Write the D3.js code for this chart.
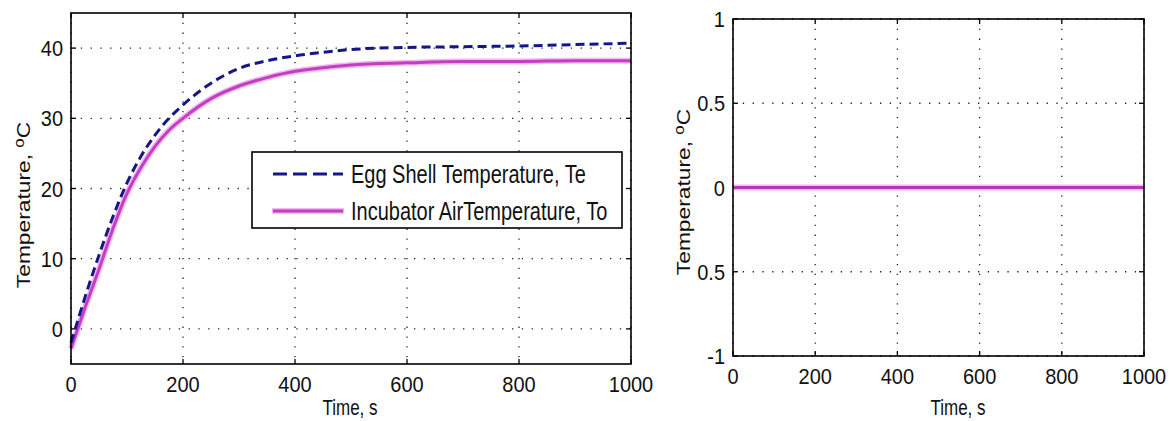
<!DOCTYPE html>
<html>
<head>
<meta charset="utf-8">
<script src="https://cdn.jsdelivr.net/npm/d3@7"></script>
<style>
  body { margin: 0; background: #fff; }
  text { font-family: "Liberation Sans", Arial, sans-serif; fill: #111; }
</style>
</head>
<body>
<div id="chart"></div>
<script>
// left panel: temperature response
const times = [0, 25, 50, 75, 100, 125, 150, 175, 200, 250, 300, 350, 400, 450, 500, 600, 700, 800, 900, 1000];
const shellTemp = [-2, 4.5, 10.5, 16, 20.8, 24.6, 27.6, 30, 31.9, 35, 37.1, 38.2, 38.9, 39.4, 39.8, 40.1, 40.2, 40.3, 40.5, 40.7];
const airTemp = [-2.8, 3, 8.5, 14.3, 19.3, 23, 26, 28.3, 30, 32.8, 34.6, 35.8, 36.7, 37.2, 37.6, 37.9, 38.1, 38.1, 38.2, 38.2];
// right panel: flat line
const rightTimes = [0, 1000];
const rightTemp = [0, 0];

const xTicks = [0, 200, 400, 600, 800, 1000];
const leftYTicks = [0, 10, 20, 30, 40];
const rightYTicks = [-1, -0.5, 0, 0.5, 1];
const rightYLabels = ['-1', '0.5', '0', '0.5', '1'];
const legendLabels = ['Egg Shell Temperature, Te', 'Incubator AirTemperature, To'];

const W = 1172, H = 421;
const svg = d3.select('#chart').append('svg')
  .attr('width', W).attr('height', H);

function panel(cfg) {
  const x = d3.scaleLinear().domain(cfg.xDomain).range([cfg.left, cfg.right]);
  const y = d3.scaleLinear().domain(cfg.yDomain).range([cfg.bottom, cfg.top]);
  const g = svg.append('g');

  // dotted grid
  g.selectAll('.gx').data(cfg.xTicks).enter().append('line')
    .attr('x1', d => x(d)).attr('x2', d => x(d))
    .attr('y1', cfg.top).attr('y2', cfg.bottom)
    .attr('stroke', '#222').attr('stroke-width', 1.3)
    .attr('stroke-dasharray', '1.3,8.5');
  g.selectAll('.gy').data(cfg.yTicks).enter().append('line')
    .attr('y1', d => y(d)).attr('y2', d => y(d))
    .attr('x1', cfg.left).attr('x2', cfg.right)
    .attr('stroke', '#222').attr('stroke-width', 1.3)
    .attr('stroke-dasharray', '1.3,8.5');

  // inward ticks
  const tk = 5;
  cfg.xTicks.forEach(d => {
    g.append('line').attr('x1', x(d)).attr('x2', x(d)).attr('y1', cfg.bottom).attr('y2', cfg.bottom - tk)
      .attr('stroke', '#000').attr('stroke-width', 1.3);
    g.append('line').attr('x1', x(d)).attr('x2', x(d)).attr('y1', cfg.top).attr('y2', cfg.top + tk)
      .attr('stroke', '#000').attr('stroke-width', 1.3);
  });
  cfg.yTicks.forEach(d => {
    g.append('line').attr('y1', y(d)).attr('y2', y(d)).attr('x1', cfg.left).attr('x2', cfg.left + tk)
      .attr('stroke', '#000').attr('stroke-width', 1.3);
    g.append('line').attr('y1', y(d)).attr('y2', y(d)).attr('x1', cfg.right).attr('x2', cfg.right - tk)
      .attr('stroke', '#000').attr('stroke-width', 1.3);
  });

  // tick labels
  g.selectAll('.xl').data(cfg.xTicks).enter().append('text')
    .attr('transform', d => `translate(${x(d)},${cfg.bottom + 28}) scale(1,1.12)`)
    .attr('text-anchor', 'middle').attr('font-size', 20)
    .text(d => d);
  g.selectAll('.yl').data(cfg.yTicks).enter().append('text')
    .attr('transform', d => `translate(${cfg.left - 8},${y(d) + 8}) scale(1,1.12)`)
    .attr('text-anchor', 'end').attr('font-size', 20)
    .text((d, i) => cfg.yLabels ? cfg.yLabels[i] : d);

  // axis labels
  g.append('text')
    .attr('transform', `translate(${cfg.xLabelX},${H - 6}) scale(1,1.25)`)
    .attr('text-anchor', 'middle').attr('font-size', 17)
    .text('Time, s');
  const yl = g.append('text')
    .attr('transform', `translate(${cfg.yLabelX},${cfg.yLabelY}) rotate(-90) scale(1.2,1)`)
    .attr('text-anchor', 'middle').attr('font-size', 19);
  yl.append('tspan').text('Temperature, ');
  yl.append('tspan').attr('font-size', 14).attr('dy', -6).text('o');
  yl.append('tspan').attr('dy', 6).text('C');

  // lines
  cfg.series.forEach(s => {
    const line = d3.line().curve(d3.curveMonotoneX).x((d, i) => x(s.t[i])).y(d => y(d));
    if (s.halo) {
      g.append('path').datum(s.v).attr('d', line).attr('fill', 'none')
        .attr('stroke', s.halo).attr('stroke-width', 6);
    }
    g.append('path').datum(s.v).attr('d', line).attr('fill', 'none')
      .attr('stroke', s.color).attr('stroke-width', s.width)
      .attr('stroke-dasharray', s.dash || null);
  });

  // box
  g.append('rect')
    .attr('x', cfg.left).attr('y', cfg.top)
    .attr('width', cfg.right - cfg.left).attr('height', cfg.bottom - cfg.top)
    .attr('fill', 'none').attr('stroke', '#000').attr('stroke-width', 1.6);

  return {x, y, g};
}

const magenta = '#c23fc2';
const pink = '#f4b8f0';
const navy = '#16168a';

const left = panel({
  left: 71, right: 631, top: 13, bottom: 364,
  xDomain: [0, 1000], yDomain: [-5, 45],
  xTicks: xTicks, yTicks: leftYTicks,
  xLabelX: 350, yLabelX: 30, yLabelY: 205,
  series: [
    {t: times, v: airTemp, color: magenta, width: 3, halo: pink},
    {t: times, v: shellTemp, color: navy, width: 3, dash: '9,5'}
  ]
});

// legend
const lg = left.g.append('g');
lg.append('rect').attr('x', 252).attr('y', 152).attr('width', 370).attr('height', 76)
  .attr('fill', '#fff').attr('stroke', '#000').attr('stroke-width', 1.6);
const legendStyles = [
  {color: navy, dash: '14,6', halo: null},
  {color: magenta, dash: null, halo: pink}
];
legendLabels.forEach((lab, i) => {
  const cy = 174 + i * 37;
  const st = legendStyles[i];
  if (st.halo) {
    lg.append('line').attr('x1', 272).attr('x2', 344).attr('y1', cy).attr('y2', cy)
      .attr('stroke', st.halo).attr('stroke-width', 6);
  }
  lg.append('line').attr('x1', 273).attr('x2', 343).attr('y1', cy).attr('y2', cy)
    .attr('stroke', st.color).attr('stroke-width', 3)
    .attr('stroke-dasharray', st.dash);
  lg.append('text')
    .attr('transform', `translate(351,${cy + 9}) scale(1,1.25)`)
    .attr('font-size', 20)
    .text(lab);
});

panel({
  left: 733, right: 1144, top: 19, bottom: 356,
  xDomain: [0, 1000], yDomain: [-1, 1],
  xTicks: xTicks, yTicks: rightYTicks, yLabels: rightYLabels,
  xLabelX: 958, yLabelX: 690, yLabelY: 192,
  series: [
    {t: rightTimes, v: rightTemp, color: '#b43ab4', width: 3, halo: pink}
  ]
});
</script>
</body>
</html>
